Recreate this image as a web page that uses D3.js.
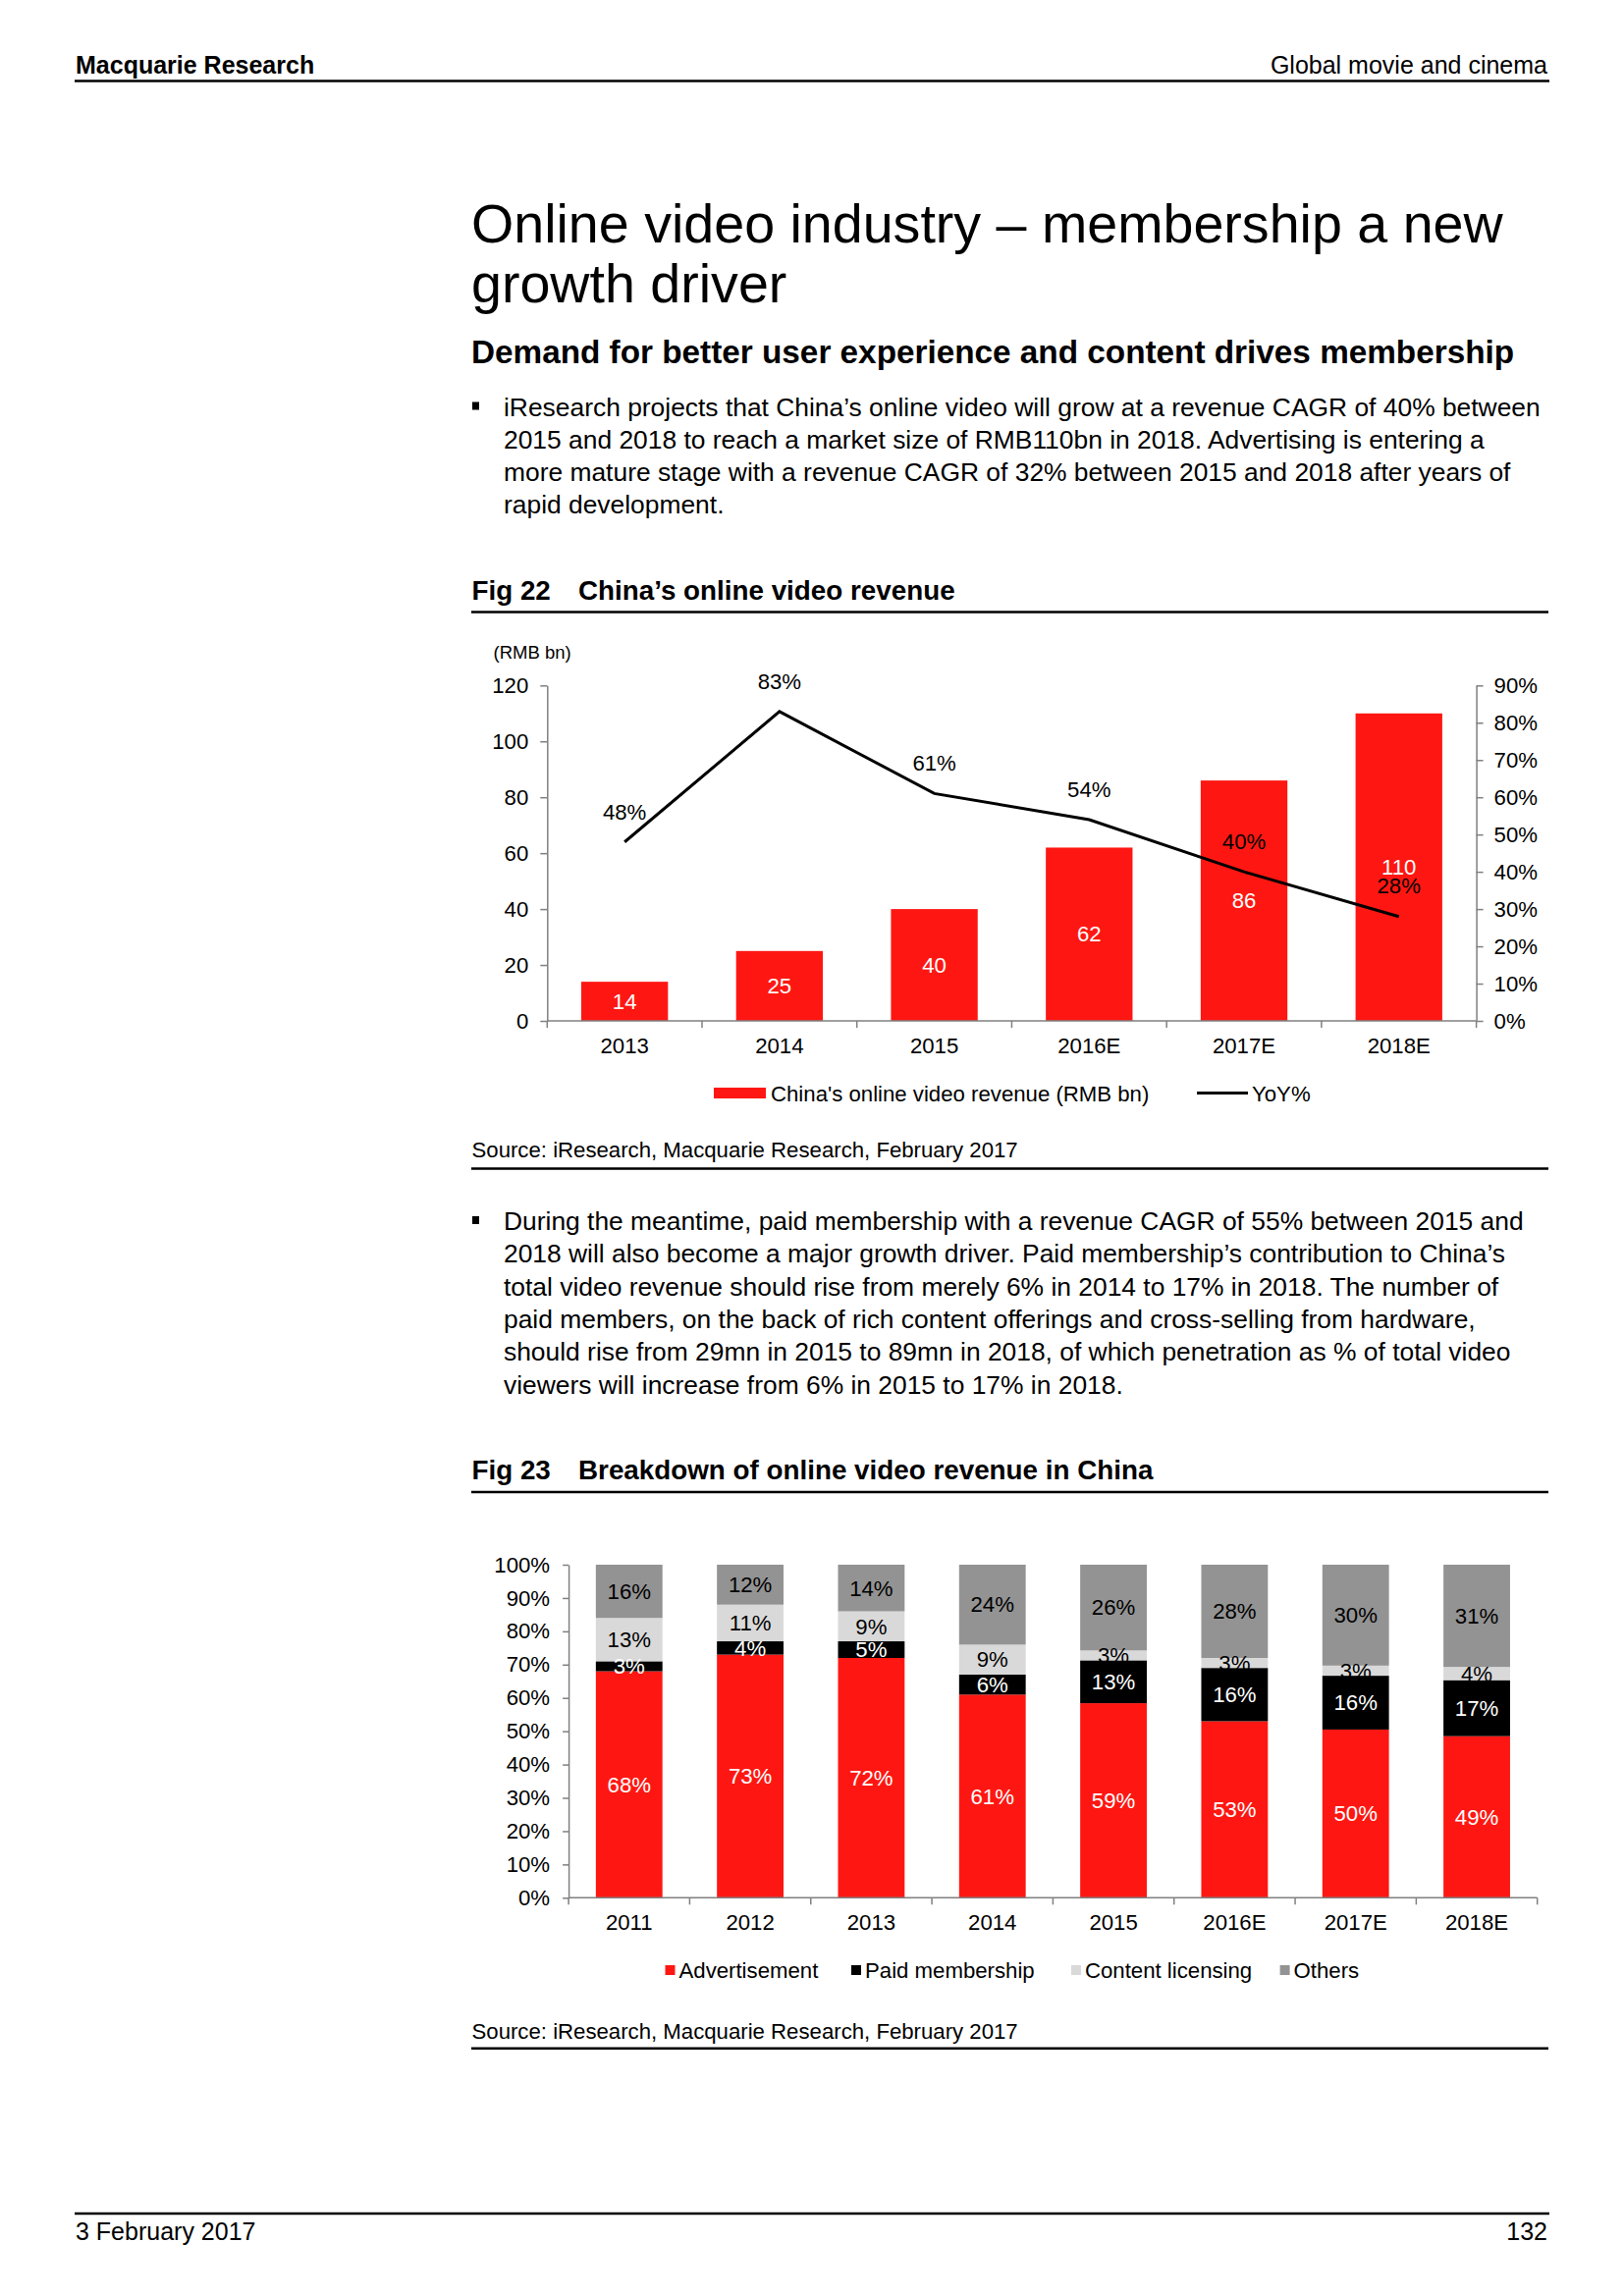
<!DOCTYPE html>
<html><head><meta charset="utf-8">
<script src="https://cdn.jsdelivr.net/npm/d3@7"></script>
<style>
body{margin:0;background:#fff;}
svg{display:block;font-family:"Liberation Sans",Arial,Helvetica,sans-serif;}
</style></head><body>
<svg id="page" width="1654" height="2339"></svg>
<script>
// ---------- Fig 22 data ----------
const years1 = ["2013","2014","2015","2016E","2017E","2018E"];
const revenue = [14,25,40,62,86,110];           // RMB bn
const yoy = [48,83,61,54,40,28];                 // YoY %
const yTicksLeft = [0,20,40,60,80,100,120];
const yTicksRight = [0,10,20,30,40,50,60,70,80,90];
const legend1 = ["China's online video revenue (RMB bn)","YoY%"];

// ---------- Fig 23 data ----------
const years2 = ["2011","2012","2013","2014","2015","2016E","2017E","2018E"];
const advertisement    = [68,73,72,61,59,53,50,49];
const paidMembership   = [3,4,5,6,13,16,16,17];
const contentLicensing = [13,11,9,9,3,3,3,4];
const others           = [16,12,14,24,26,28,30,31];
const seriesNames2 = ["Advertisement","Paid membership","Content licensing","Others"];
const yTicks2 = [0,0.1,0.2,0.3,0.4,0.5,0.6,0.7,0.8,0.9,1];

// ---------- page text ----------
const para1 = [
 "iResearch projects that China\u2019s online video will grow at a revenue CAGR of 40% between",
 "2015 and 2018 to reach a market size of RMB110bn in 2018. Advertising is entering a",
 "more mature stage with a revenue CAGR of 32% between 2015 and 2018 after years of",
 "rapid development."];
const para2 = [
 "During the meantime, paid membership with a revenue CAGR of 55% between 2015 and",
 "2018 will also become a major growth driver. Paid membership\u2019s contribution to China\u2019s",
 "total video revenue should rise from merely 6% in 2014 to 17% in 2018. The number of",
 "paid members, on the back of rich content offerings and cross-selling from hardware,",
 "should rise from 29mn in 2015 to 89mn in 2018, of which penetration as % of total video",
 "viewers will increase from 6% in 2015 to 17% in 2018."];

const RED = "#fe1712", AXIS = "#808080";
const svg = d3.select("#page");
svg.append("rect").attr("width",1654).attr("height",2339).attr("fill","#fff");

function txt(x,y,s,size,opts={}){
  const t = svg.append("text").attr("x",x).attr("y",y).attr("font-size",size).text(s)
    .attr("fill", opts.fill||"#000");
  if(opts.bold) t.attr("font-weight","bold");
  if(opts.anchor) t.attr("text-anchor",opts.anchor);
  return t;
}
function hline(x1,x2,y,w){
  svg.append("line").attr("x1",x1).attr("x2",x2).attr("y1",y).attr("y2",y)
    .attr("stroke","#000").attr("stroke-width",w);
}

// header
txt(77,75,"Macquarie Research",25,{bold:true});
txt(1576,75,"Global movie and cinema",25,{anchor:"end"});
hline(76,1578,82.5,2.5);

// title
txt(480,247,"Online video industry \u2013 membership a new",55.6);
txt(480,308,"growth driver",55.6);
txt(480,370,"Demand for better user experience and content drives membership",33.3,{bold:true});

function paragraph(lines,y0){
  svg.append("rect").attr("x",481).attr("y",y0-14).attr("width",7).attr("height",8).attr("fill","#000");
  lines.forEach((l,i)=>txt(513,y0+i*33.3,l,26.4));
}
paragraph(para1,423.5);

// Fig 22 title
txt(480.5,611,"Fig 22",27.8,{bold:true});
txt(589,611,"China\u2019s online video revenue",27.8,{bold:true});
hline(480,1577,623.5,2.5);

// ---------- Chart 1 ----------
const x1 = d3.scaleBand().domain(years1).range([557.3,1503.6]).paddingInner(0.44).paddingOuter(0.22);
const yL = d3.scaleLinear().domain([0,120]).range([1040,698.3]);
const yR = d3.scaleLinear().domain([0,90]).range([1040,698.3]);
const FS = 22.2;

const c1 = svg.append("g");
c1.append("text").attr("x",502.5).attr("y",671).attr("font-size",18.5).text("(RMB bn)");

c1.selectAll("rect.bar").data(revenue).join("rect").attr("class","bar")
  .attr("x",(d,i)=>x1(years1[i])).attr("width",x1.bandwidth())
  .attr("y",d=>yL(d)).attr("height",d=>yL(0)-yL(d)).attr("fill",RED);

function styleAxis(g){
  g.attr("font-family",null).attr("font-size",FS);
  g.selectAll("path,line").attr("stroke",AXIS).attr("stroke-width",1.5);
  g.selectAll("text").attr("fill","#000");
}
c1.append("g").attr("transform",`translate(${x1.range()[0]},0)`)
  .call(d3.axisLeft(yL).tickValues(yTicksLeft).tickSize(7).tickPadding(12).tickSizeOuter(0)).call(styleAxis);
c1.append("g").attr("transform",`translate(${x1.range()[1]},0)`)
  .call(d3.axisRight(yR).tickValues(yTicksRight).tickFormat(d=>d+"%").tickSize(7).tickPadding(11).tickSizeOuter(0)).call(styleAxis);

function bandAxis(g, x, y0, labelY){
  const bounds = d3.range(x.domain().length+1).map(i=>x.range()[0]+i*x.step());
  g.append("line").attr("x1",x.range()[0]).attr("x2",x.range()[1]).attr("y1",y0).attr("y2",y0)
    .attr("stroke",AXIS).attr("stroke-width",1.5);
  g.selectAll("line.bt").data(bounds).join("line").attr("class","bt")
    .attr("x1",d=>d).attr("x2",d=>d).attr("y1",y0).attr("y2",y0+7).attr("stroke",AXIS).attr("stroke-width",1.5);
  g.selectAll("text.xl").data(x.domain()).join("text").attr("class","xl")
    .attr("x",d=>x(d)+x.bandwidth()/2).attr("y",labelY).attr("dy","0.35em")
    .attr("text-anchor","middle").attr("font-size",FS).text(d=>d);
}
bandAxis(c1.append("g"), x1, 1040, 1065);

c1.selectAll("text.bl").data(revenue).join("text").attr("class","bl")
  .attr("x",(d,i)=>x1(years1[i])+x1.bandwidth()/2).attr("y",d=>(yL(d)+yL(0))/2).attr("dy","0.35em")
  .attr("text-anchor","middle").attr("font-size",FS).attr("fill","#fff").text(d=>d);

const line1 = d3.line().x((d,i)=>x1(years1[i])+x1.bandwidth()/2).y(d=>yR(d));
c1.append("path").datum(yoy).attr("d",line1).attr("fill","none").attr("stroke","#000").attr("stroke-width",3);
c1.selectAll("text.ll").data(yoy).join("text").attr("class","ll")
  .attr("x",(d,i)=>x1(years1[i])+x1.bandwidth()/2).attr("y",d=>yR(d)-31).attr("dy","0.35em")
  .attr("text-anchor","middle").attr("font-size",FS).attr("fill","#000").text(d=>d+"%");

// legend 1
c1.append("rect").attr("x",727).attr("y",1108).attr("width",53).attr("height",11).attr("fill",RED);
c1.append("text").attr("x",785).attr("y",1122).attr("font-size",FS).text(legend1[0]);
c1.append("line").attr("x1",1219).attr("x2",1271).attr("y1",1113.5).attr("y2",1113.5).attr("stroke","#000").attr("stroke-width",3);
c1.append("text").attr("x",1275).attr("y",1122).attr("font-size",FS).text(legend1[1]);

txt(480.5,1179,"Source: iResearch, Macquarie Research, February 2017",22.2);
hline(480,1577,1190.5,2.5);

paragraph(para2,1253);

// Fig 23 title
txt(480.5,1507,"Fig 23",27.8,{bold:true});
txt(589,1507,"Breakdown of online video revenue in China",27.8,{bold:true});
hline(480,1577,1520,2.5);

// ---------- Chart 2 ----------
const x2 = d3.scaleBand().domain(years2).range([579.1,1565.7]).paddingInner(0.45).paddingOuter(0.225);
const y2 = d3.scaleLinear().domain([0,1]).range([1933.3,1594]);
const rows = years2.map((y,i)=>({year:y,
  "Advertisement":advertisement[i],"Paid membership":paidMembership[i],
  "Content licensing":contentLicensing[i],"Others":others[i]}));
const stacked = d3.stack().keys(seriesNames2).offset(d3.stackOffsetExpand)(rows);
const colors2 = d3.scaleOrdinal().domain(seriesNames2).range([RED,"#000000","#d9d9d9","#939393"]);
const labelColors2 = d3.scaleOrdinal().domain(seriesNames2).range(["#fff","#fff","#000","#000"]);

const c2 = svg.append("g");
stacked.forEach(s=>{
  c2.append("g").selectAll("rect").data(s).join("rect")
    .attr("x",d=>x2(d.data.year)).attr("width",x2.bandwidth())
    .attr("y",d=>y2(d[1])).attr("height",d=>y2(d[0])-y2(d[1])).attr("fill",colors2(s.key));
});
stacked.forEach(s=>{
  c2.append("g").selectAll("text").data(s).join("text")
    .attr("x",d=>x2(d.data.year)+x2.bandwidth()/2).attr("y",d=>(y2(d[0])+y2(d[1]))/2).attr("dy","0.35em")
    .attr("text-anchor","middle").attr("font-size",FS).attr("fill",labelColors2(s.key))
    .text(d=>d.data[s.key]+"%");
});
c2.append("g").attr("transform",`translate(${x2.range()[0]},0)`)
  .call(d3.axisLeft(y2).tickValues(yTicks2).tickFormat(d3.format(".0%")).tickSize(6).tickPadding(13).tickSizeOuter(0)).call(styleAxis);
bandAxis(c2.append("g"), x2, 1933.3, 1958.3);

// legend 2
const leg2x = [677.5,867,1091,1303.6];
seriesNames2.forEach((n,i)=>{
  c2.append("rect").attr("x",leg2x[i]).attr("y",2002).attr("width",10).attr("height",10).attr("fill",colors2(n));
  c2.append("text").attr("x",leg2x[i]+14).attr("y",2015).attr("font-size",FS).text(n);
});

txt(480.5,2077,"Source: iResearch, Macquarie Research, February 2017",22.2);
hline(480,1577,2086.7,2.5);

// footer
hline(76,1578,2255,2.5);
txt(77,2282,"3 February 2017",25);
txt(1576,2282,"132",25,{anchor:"end"});
</script>
</body></html>
